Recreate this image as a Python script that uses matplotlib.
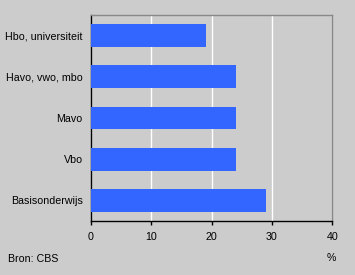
import matplotlib
matplotlib.use("Agg")
import matplotlib.pyplot as plt

categories = ["Basisonderwijs", "Vbo", "Mavo", "Havo, vwo, mbo", "Hbo, universiteit"]
values = [29, 24, 24, 24, 19]
xticks = [0, 10, 20, 30, 40]

plt.rcParams['font.family'] = ['Liberation Sans', 'DejaVu Sans']
FS = 7.7
W, H = 355, 275
fig = plt.figure(figsize=(W/100, H/100), dpi=100, facecolor='#cccccc')
ax = fig.add_axes([91/W, 1-221/H, (332.3-91)/W, (221-15)/H])
ax.set_facecolor('#cccccc')
ax.barh(range(len(categories)), values, height=0.55, color='#3366ff', zorder=3)
ax.set_ylim(-0.5, len(categories)-0.5)
ax.set_xlim(0, 40)
ax.set_xticks(xticks)
ax.set_xticklabels([str(t) for t in xticks], fontsize=FS)
ax.set_yticks(range(len(categories)))
ax.set_yticklabels(categories, fontsize=FS)
ax.tick_params(axis='y', length=0, pad=6)
ax.tick_params(axis='x', length=3, width=1, color='black', pad=5)
ax.xaxis.grid(True, color='white', linewidth=1, zorder=1)
ax.set_axisbelow(True)
for s in ['top', 'right']:
    ax.spines[s].set_color('#888888')
    ax.spines[s].set_linewidth(1)
for s in ['left', 'bottom']:
    ax.spines[s].set_color('black')
    ax.spines[s].set_linewidth(1)
fig.text(331.7/W, 1-258/H, "%", fontsize=FS, ha='center', va='center')
fig.text(8/W, 1-259/H, "Bron: CBS", fontsize=FS, ha='left', va='center')
fig.savefig("out.png", dpi=100, facecolor='#cccccc')
